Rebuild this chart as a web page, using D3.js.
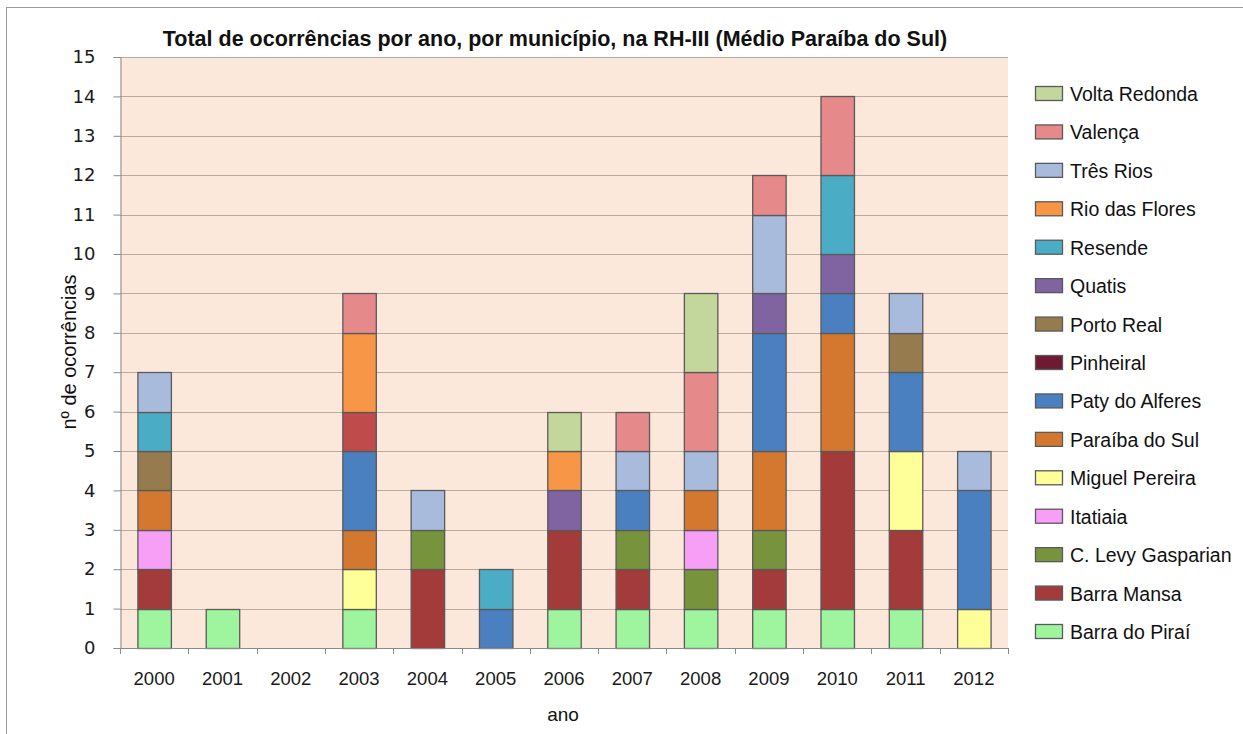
<!DOCTYPE html>
<html>
<head>
<meta charset="utf-8">
<script src="https://cdn.jsdelivr.net/npm/d3@7/dist/d3.min.js"></script>
<style>
  html, body { margin: 0; padding: 0; background: #fff; }
  svg { display: block; font-family: "Liberation Sans", Arial, sans-serif; }
</style>
</head>
<body>
<svg id="chart" width="1243" height="734"></svg>
<script>
// ---- data ----
const years = ["2000","2001","2002","2003","2004","2005","2006","2007","2008","2009","2010","2011","2012"];
const seriesNames = ["Barra do Piraí","Barra Mansa","C. Levy Gasparian","Itatiaia","Miguel Pereira",
  "Paraíba do Sul","Paty do Alferes","Pinheiral","Porto Real","Quatis","Resende","Rio das Flores",
  "Três Rios","Valença","Volta Redonda"];
//                         2000 01 02 03 04 05 06 07 08 09 10 11 12
const barraDoPirai     = [1, 1, 0, 1, 0, 0, 1, 1, 1, 1, 1, 1, 0];
const barraMansa       = [1, 0, 0, 0, 2, 0, 2, 1, 0, 1, 4, 2, 0];
const cLevyGasparian   = [0, 0, 0, 0, 1, 0, 0, 1, 1, 1, 0, 0, 0];
const itatiaia         = [1, 0, 0, 0, 0, 0, 0, 0, 1, 0, 0, 0, 0];
const miguelPereira    = [0, 0, 0, 1, 0, 0, 0, 0, 0, 0, 0, 2, 1];
const paraibaDoSul     = [1, 0, 0, 1, 0, 0, 0, 0, 1, 2, 3, 0, 0];
const patyDoAlferes    = [0, 0, 0, 2, 0, 1, 0, 1, 0, 3, 1, 2, 3];
const pinheiral        = [0, 0, 0, 1, 0, 0, 0, 0, 0, 0, 0, 0, 0];
const portoReal        = [1, 0, 0, 0, 0, 0, 0, 0, 0, 0, 0, 1, 0];
const quatis           = [0, 0, 0, 0, 0, 0, 1, 0, 0, 1, 1, 0, 0];
const resende          = [1, 0, 0, 0, 0, 1, 0, 0, 0, 0, 2, 0, 0];
const rioDasFlores     = [0, 0, 0, 2, 0, 0, 1, 0, 0, 0, 0, 0, 0];
const tresRios         = [1, 0, 0, 0, 1, 0, 0, 1, 1, 2, 0, 1, 1];
const valenca          = [0, 0, 0, 1, 0, 0, 0, 1, 2, 1, 2, 0, 0];
const voltaRedonda     = [0, 0, 0, 0, 0, 0, 1, 0, 2, 0, 0, 0, 0];
const yTicks = [0,1,2,3,4,5,6,7,8,9,10,11,12,13,14,15];

const seriesValues = [barraDoPirai, barraMansa, cLevyGasparian, itatiaia, miguelPereira,
  paraibaDoSul, patyDoAlferes, pinheiral, portoReal, quatis, resende, rioDasFlores,
  tresRios, valenca, voltaRedonda];

// ---- styles ----
const colors = ["#9ef59e","#a33b3b","#77933c","#f79ef7","#ffff99","#d4772f","#4a7fc0","#6e1a32",
  "#957b4e","#8064a2","#4bacc6","#f79646","#a8bbdd","#e6898a","#c3d69b"];
// individual point drawn with a different fill in the original
const pointFill = {"Pinheiral|2003": "#c04b4b"};

const table = years.map((y, i) => {
  const row = {year: y};
  seriesNames.forEach((s, j) => row[s] = seriesValues[j][i]);
  return row;
});

const svg = d3.select("#chart");
const m = {left: 120, top: 57, right: 1008, bottom: 648};

// outer frame
svg.append("rect").attr("x", 6.5).attr("y", 7.5).attr("width", 1300).attr("height", 800)
  .attr("fill", "none").attr("stroke", "#9a9a9a").attr("stroke-width", 1);

const x = d3.scaleBand().domain(years).range([m.left, m.right]).paddingInner(0.51).paddingOuter(0.255);
const y = d3.scaleLinear().domain([0, 15]).range([m.bottom, m.top]);

// plot background
svg.append("rect").attr("x", m.left).attr("y", m.top)
  .attr("width", m.right - m.left).attr("height", m.bottom - m.top).attr("fill", "#fce8da");

// gridlines
svg.append("g").selectAll("line").data(yTicks.filter(t => t > 0)).join("line")
  .attr("x1", m.left).attr("x2", m.right)
  .attr("y1", d => Math.round(y(d)) + 0.5).attr("y2", d => Math.round(y(d)) + 0.5)
  .attr("stroke", "#b8aca2").attr("stroke-width", 1);

// bars
const stack = d3.stack().keys(seriesNames);
const stacked = stack(table);
svg.append("g").selectAll("g").data(stacked).join("g")
  .attr("fill", (d, i) => colors[i])
  .selectAll("rect").data(d => d.map(p => ({p, key: d.key}))).join("rect")
  .filter(d => d.p[1] - d.p[0] > 0)
  .attr("x", d => x(d.p.data.year) + 0.5)
  .attr("y", d => Math.round(y(d.p[1])) + 0.5)
  .attr("width", x.bandwidth())
  .attr("height", d => Math.round(y(d.p[0])) - Math.round(y(d.p[1])))
  .attr("fill", d => pointFill[d.key + "|" + d.p.data.year] || null)
  .attr("stroke", "#5a5a5a").attr("stroke-width", 1.3);

// y axis
const yAxis = d3.axisLeft(y).tickValues(yTicks).tickSize(7).tickPadding(18);
const gy = svg.append("g").attr("transform", `translate(${m.left + 0.5},0)`).call(yAxis);
gy.select(".domain").attr("stroke", "#8a8a8a");
gy.selectAll(".tick line").attr("stroke", "#8a8a8a");
gy.selectAll("text").attr("fill", "#1a1a1a")
  .attr("font-family", "'DejaVu Sans', sans-serif").attr("font-size", 18);

// x axis
const xAxis = d3.axisBottom(x).tickSize(0).tickPadding(23);
const gx = svg.append("g").attr("transform", `translate(0,${m.bottom + 0.5})`).call(xAxis);
gx.select(".domain").attr("stroke", "#8a8a8a").attr("d", `M${m.left},0H${m.right}`);
gx.selectAll("text").attr("font-size", 18.5).attr("fill", "#1a1a1a");
// category boundary tick marks
const bounds = d3.range(years.length + 1).map(i => m.left + i * x.step());
svg.append("g").selectAll("line").data(bounds).join("line")
  .attr("x1", d => Math.round(d) + 0.5)
  .attr("x2", d => Math.round(d) + 0.5)
  .attr("y1", m.bottom).attr("y2", m.bottom + 6)
  .attr("stroke", "#8a8a8a");

// titles
svg.append("text").attr("x", 555).attr("y", 46).attr("text-anchor", "middle")
  .attr("font-size", 21.5).attr("font-weight", "bold").attr("fill", "#111")
  .text("Total de ocorrências por ano, por município, na RH-III (Médio Paraíba do Sul)");
svg.append("text").attr("x", 563).attr("y", 721).attr("text-anchor", "middle")
  .attr("font-size", 19).attr("fill", "#111").text("ano");
svg.append("text").attr("transform", "translate(76,352) rotate(-90)").attr("text-anchor", "middle")
  .attr("font-size", 20).attr("fill", "#111").text("nº de ocorrências");

// legend (reverse order, top = last series)
const legendItems = seriesNames.map((s, i) => ({s, c: colors[i]})).reverse();
const lg = svg.append("g");
const ly = d3.scaleLinear().domain([0, legendItems.length - 1]).range([94, 632]);
const li = lg.selectAll("g").data(legendItems).join("g")
  .attr("transform", (d, i) => `translate(1035,${ly(i)})`);
li.append("rect").attr("x", 0.5).attr("y", -7.5).attr("width", 27).attr("height", 14)
  .attr("fill", d => d.c).attr("stroke", "#5a5a5a").attr("stroke-width", 1.3);
li.append("text").attr("x", 35).attr("y", 7).attr("font-size", 19.5).attr("fill", "#111")
  .text(d => d.s);
</script>
</body>
</html>
